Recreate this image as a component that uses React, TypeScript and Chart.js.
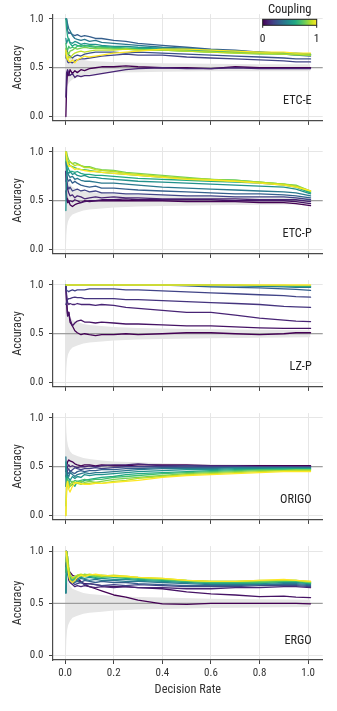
import React, { useEffect, useRef } from 'react';
import { Chart, registerables } from 'chart.js';

Chart.register(...registerables);

const FONT = '"Liberation Sans Narrow", "Roboto Condensed", "DejaVu Sans Condensed", sans-serif';

// Shared decision-rate grid for all curves
const X = [0.003, 0.006, 0.01, 0.015, 0.02, 0.03, 0.04, 0.05, 0.065, 0.08, 0.1, 0.125, 0.15, 0.2, 0.25, 0.3, 0.4, 0.5, 0.6, 0.7, 0.8, 0.9, 0.95, 1.01];
const X_TICKS = [0, 0.2, 0.4, 0.6, 0.8, 1.0];
const Y_TICKS = [0, 0.5, 1.0];
const BAND_X = [0.003, 0.005, 0.008, 0.012, 0.02, 0.03, 0.05, 0.075, 0.1, 0.15, 0.2, 0.3, 0.4, 0.6, 0.8, 1.01];

// ETC-E
const ETCE_COUPLING = [0, 0.1, 0.2, 0.25, 0.3, 0.4, 0.5, 0.6, 0.7, 0.8, 0.9, 1.0];
const ETCE_LINES = [
  [0.00, 0.30, 0.47, 0.42, 0.48, 0.44, 0.47, 0.45, 0.48, 0.47, 0.49, 0.50, 0.51, 0.51, 0.52, 0.51, 0.50, 0.50, 0.49, 0.51, 0.50, 0.50, 0.50, 0.50],
  [0.20, 0.45, 0.48, 0.44, 0.42, 0.44, 0.40, 0.42, 0.41, 0.42, 0.42, 0.43, 0.44, 0.46, 0.48, 0.49, 0.50, 0.49, 0.49, 0.50, 0.49, 0.49, 0.49, 0.49],
  [0.60, 0.62, 0.56, 0.55, 0.56, 0.55, 0.57, 0.58, 0.59, 0.59, 0.60, 0.61, 0.62, 0.63, 0.64, 0.63, 0.63, 0.61, 0.60, 0.59, 0.58, 0.57, 0.56, 0.56],
  [0.62, 0.70, 0.66, 0.63, 0.62, 0.60, 0.62, 0.63, 0.62, 0.64, 0.65, 0.66, 0.66, 0.66, 0.65, 0.66, 0.65, 0.64, 0.63, 0.62, 0.61, 0.60, 0.59, 0.59],
  [1.00, 1.00, 0.88, 0.85, 0.86, 0.84, 0.83, 0.84, 0.82, 0.83, 0.82, 0.80, 0.80, 0.78, 0.77, 0.75, 0.73, 0.71, 0.69, 0.68, 0.66, 0.64, 0.63, 0.62],
  [1.00, 1.00, 0.95, 0.90, 0.88, 0.83, 0.80, 0.79, 0.78, 0.79, 0.77, 0.78, 0.76, 0.75, 0.74, 0.73, 0.71, 0.70, 0.68, 0.67, 0.66, 0.65, 0.64, 0.64],
  [0.80, 0.75, 0.78, 0.80, 0.76, 0.75, 0.77, 0.76, 0.74, 0.75, 0.74, 0.74, 0.73, 0.72, 0.72, 0.71, 0.70, 0.69, 0.68, 0.67, 0.66, 0.65, 0.65, 0.64],
  [1.00, 0.90, 0.82, 0.78, 0.75, 0.72, 0.74, 0.73, 0.72, 0.73, 0.72, 0.71, 0.72, 0.71, 0.70, 0.70, 0.69, 0.68, 0.67, 0.66, 0.65, 0.65, 0.64, 0.64],
  [0.75, 0.70, 0.68, 0.72, 0.70, 0.71, 0.70, 0.72, 0.73, 0.72, 0.73, 0.72, 0.71, 0.70, 0.70, 0.69, 0.68, 0.67, 0.66, 0.66, 0.65, 0.64, 0.64, 0.63],
  [0.70, 0.62, 0.66, 0.64, 0.67, 0.68, 0.70, 0.69, 0.70, 0.71, 0.70, 0.70, 0.70, 0.69, 0.69, 0.68, 0.68, 0.67, 0.66, 0.65, 0.64, 0.64, 0.63, 0.63],
  [0.65, 0.60, 0.58, 0.62, 0.60, 0.63, 0.65, 0.66, 0.67, 0.66, 0.67, 0.68, 0.68, 0.68, 0.69, 0.68, 0.68, 0.67, 0.66, 0.65, 0.65, 0.64, 0.64, 0.63],
  [0.68, 0.62, 0.60, 0.57, 0.56, 0.58, 0.55, 0.58, 0.60, 0.62, 0.61, 0.62, 0.63, 0.65, 0.66, 0.67, 0.69, 0.69, 0.68, 0.67, 0.66, 0.66, 0.65, 0.65],
];
const ETCE_BAND_LO = [0.20, 0.25, 0.30, 0.33, 0.36, 0.38, 0.40, 0.42, 0.43, 0.44, 0.45, 0.455, 0.46, 0.465, 0.465, 0.465];
const ETCE_BAND_HI = [0.62, 0.62, 0.61, 0.61, 0.60, 0.60, 0.59, 0.58, 0.57, 0.565, 0.56, 0.55, 0.545, 0.54, 0.535, 0.535];

// ETC-P
const ETCP_COUPLING = [0, 0.05, 0.1, 0.2, 0.3, 0.4, 0.5, 0.6, 0.7, 0.8, 0.9, 1.0];
const ETCP_LINES = [
  [0.80, 0.55, 0.48, 0.50, 0.46, 0.44, 0.46, 0.47, 0.48, 0.50, 0.49, 0.50, 0.50, 0.50, 0.50, 0.50, 0.50, 0.49, 0.49, 0.49, 0.48, 0.48, 0.47, 0.45],
  [0.60, 0.50, 0.52, 0.48, 0.50, 0.49, 0.51, 0.50, 0.48, 0.49, 0.50, 0.50, 0.51, 0.51, 0.52, 0.51, 0.51, 0.51, 0.51, 0.50, 0.50, 0.50, 0.49, 0.47],
  [0.80, 0.70, 0.62, 0.58, 0.55, 0.56, 0.53, 0.55, 0.54, 0.52, 0.53, 0.54, 0.53, 0.54, 0.53, 0.53, 0.52, 0.52, 0.52, 0.52, 0.51, 0.51, 0.51, 0.49],
  [0.70, 0.72, 0.65, 0.62, 0.64, 0.60, 0.61, 0.62, 0.60, 0.61, 0.59, 0.60, 0.58, 0.58, 0.57, 0.57, 0.56, 0.55, 0.55, 0.54, 0.54, 0.54, 0.53, 0.51],
  [0.90, 0.80, 0.72, 0.70, 0.72, 0.68, 0.70, 0.68, 0.66, 0.65, 0.64, 0.65, 0.63, 0.63, 0.62, 0.61, 0.60, 0.59, 0.58, 0.57, 0.57, 0.56, 0.55, 0.53],
  [1.00, 0.85, 0.78, 0.76, 0.74, 0.75, 0.72, 0.73, 0.71, 0.70, 0.70, 0.69, 0.68, 0.68, 0.67, 0.66, 0.64, 0.63, 0.62, 0.61, 0.60, 0.59, 0.58, 0.55],
  [0.40, 0.85, 0.80, 0.78, 0.80, 0.77, 0.78, 0.76, 0.75, 0.76, 0.74, 0.74, 0.73, 0.72, 0.71, 0.70, 0.69, 0.68, 0.67, 0.66, 0.65, 0.64, 0.62, 0.57],
  [1.00, 0.90, 0.85, 0.82, 0.80, 0.80, 0.79, 0.80, 0.78, 0.77, 0.77, 0.76, 0.76, 0.75, 0.74, 0.73, 0.72, 0.71, 0.70, 0.69, 0.68, 0.66, 0.64, 0.58],
  [0.90, 0.95, 0.92, 0.88, 0.86, 0.85, 0.84, 0.83, 0.82, 0.82, 0.81, 0.80, 0.79, 0.78, 0.77, 0.76, 0.74, 0.73, 0.72, 0.71, 0.69, 0.67, 0.65, 0.59],
  [1.00, 1.00, 0.95, 0.92, 0.90, 0.88, 0.89, 0.88, 0.86, 0.85, 0.85, 0.83, 0.82, 0.81, 0.79, 0.78, 0.76, 0.74, 0.72, 0.71, 0.69, 0.67, 0.66, 0.60],
  [1.00, 0.92, 0.90, 0.88, 0.90, 0.88, 0.86, 0.87, 0.86, 0.84, 0.84, 0.82, 0.81, 0.80, 0.78, 0.77, 0.75, 0.73, 0.72, 0.70, 0.69, 0.67, 0.65, 0.60],
  [1.00, 0.95, 0.88, 0.85, 0.86, 0.84, 0.82, 0.83, 0.82, 0.81, 0.80, 0.80, 0.79, 0.78, 0.77, 0.76, 0.74, 0.72, 0.71, 0.70, 0.68, 0.66, 0.64, 0.60],
];
const ETCP_BAND_LO = [0.00, 0.15, 0.24, 0.29, 0.33, 0.36, 0.38, 0.40, 0.41, 0.42, 0.43, 0.44, 0.445, 0.455, 0.46, 0.465];
const ETCP_BAND_HI = [1.00, 0.85, 0.76, 0.71, 0.67, 0.64, 0.62, 0.60, 0.59, 0.58, 0.57, 0.56, 0.555, 0.545, 0.54, 0.535];

// LZ-P
const LZP_COUPLING = [0, 0.05, 0.1, 0.15, 0.2, 0.3, 0.4, 0.5, 0.7, 1.0];
const LZP_LINES = [
  [1.00, 0.85, 0.70, 0.72, 0.62, 0.58, 0.53, 0.51, 0.49, 0.50, 0.49, 0.48, 0.49, 0.49, 0.50, 0.49, 0.50, 0.51, 0.51, 0.50, 0.49, 0.50, 0.51, 0.51],
  [1.00, 0.80, 0.68, 0.72, 0.65, 0.58, 0.61, 0.63, 0.64, 0.62, 0.62, 0.61, 0.62, 0.61, 0.60, 0.60, 0.59, 0.58, 0.58, 0.57, 0.56, 0.555, 0.555, 0.555],
  [1.00, 0.90, 0.82, 0.80, 0.81, 0.80, 0.80, 0.81, 0.80, 0.80, 0.80, 0.79, 0.80, 0.79, 0.77, 0.76, 0.74, 0.72, 0.72, 0.69, 0.66, 0.64, 0.63, 0.625],
  [0.80, 0.82, 0.85, 0.86, 0.86, 0.87, 0.875, 0.87, 0.87, 0.86, 0.86, 0.86, 0.86, 0.86, 0.85, 0.85, 0.84, 0.83, 0.82, 0.81, 0.80, 0.78, 0.775, 0.77],
  [1.00, 0.94, 0.94, 0.93, 0.94, 0.95, 0.94, 0.95, 0.95, 0.95, 0.96, 0.96, 0.96, 0.96, 0.95, 0.95, 0.94, 0.93, 0.92, 0.91, 0.90, 0.89, 0.88, 0.875],
  [1.00, 1.00, 1.00, 1.00, 1.00, 1.00, 1.00, 1.00, 1.00, 1.00, 1.00, 1.00, 1.00, 1.00, 1.00, 1.00, 1.00, 0.99, 0.98, 0.975, 0.97, 0.96, 0.955, 0.945],
  [1.00, 1.00, 1.00, 1.00, 1.00, 1.00, 1.00, 1.00, 1.00, 1.00, 1.00, 1.00, 1.00, 1.00, 1.00, 1.00, 1.00, 1.00, 0.99, 0.99, 0.985, 0.98, 0.975, 0.975],
  [1.00, 1.00, 1.00, 1.00, 1.00, 1.00, 1.00, 1.00, 1.00, 1.00, 1.00, 1.00, 1.00, 1.00, 1.00, 1.00, 1.00, 1.00, 1.00, 0.995, 0.99, 0.99, 0.985, 0.985],
  [1.00, 1.00, 1.00, 1.00, 1.00, 1.00, 1.00, 1.00, 1.00, 1.00, 1.00, 1.00, 1.00, 1.00, 1.00, 1.00, 1.00, 1.00, 1.00, 1.00, 0.995, 0.995, 0.99, 0.99],
  [1.00, 1.00, 1.00, 1.00, 1.00, 1.00, 1.00, 1.00, 1.00, 1.00, 1.00, 1.00, 1.00, 1.00, 1.00, 1.00, 1.00, 1.00, 1.00, 1.00, 1.00, 1.00, 1.00, 1.00],
];
const LZP_BAND_LO = [0.00, 0.15, 0.24, 0.29, 0.33, 0.36, 0.38, 0.40, 0.41, 0.42, 0.43, 0.44, 0.445, 0.455, 0.46, 0.465];
const LZP_BAND_HI = [1.00, 0.85, 0.76, 0.71, 0.67, 0.64, 0.62, 0.60, 0.59, 0.58, 0.57, 0.56, 0.555, 0.545, 0.54, 0.535];

// ORIGO
const ORIGO_COUPLING = [0, 0.1, 0.2, 0.3, 0.4, 0.5, 0.6, 0.7, 0.8, 0.9, 1.0];
const ORIGO_LINES = [
  [0.45, 0.50, 0.55, 0.57, 0.56, 0.55, 0.53, 0.52, 0.51, 0.52, 0.52, 0.51, 0.52, 0.51, 0.51, 0.52, 0.52, 0.52, 0.51, 0.51, 0.51, 0.51, 0.51, 0.51],
  [0.40, 0.45, 0.50, 0.52, 0.50, 0.51, 0.50, 0.49, 0.50, 0.50, 0.51, 0.50, 0.51, 0.52, 0.52, 0.53, 0.51, 0.51, 0.51, 0.51, 0.50, 0.50, 0.50, 0.50],
  [0.30, 0.42, 0.46, 0.48, 0.45, 0.47, 0.49, 0.48, 0.47, 0.48, 0.48, 0.49, 0.48, 0.49, 0.50, 0.50, 0.50, 0.51, 0.50, 0.50, 0.50, 0.50, 0.50, 0.50],
  [0.50, 0.40, 0.44, 0.43, 0.46, 0.44, 0.43, 0.45, 0.46, 0.45, 0.46, 0.46, 0.47, 0.47, 0.48, 0.48, 0.49, 0.49, 0.49, 0.49, 0.49, 0.49, 0.49, 0.49],
  [0.60, 0.38, 0.42, 0.40, 0.44, 0.42, 0.40, 0.42, 0.43, 0.44, 0.43, 0.44, 0.44, 0.45, 0.46, 0.47, 0.48, 0.48, 0.48, 0.49, 0.49, 0.49, 0.49, 0.49],
  [0.55, 0.35, 0.40, 0.38, 0.36, 0.40, 0.38, 0.40, 0.39, 0.42, 0.41, 0.42, 0.42, 0.43, 0.44, 0.45, 0.46, 0.47, 0.47, 0.48, 0.48, 0.48, 0.48, 0.48],
  [0.40, 0.32, 0.36, 0.34, 0.30, 0.32, 0.30, 0.35, 0.34, 0.36, 0.37, 0.38, 0.39, 0.40, 0.42, 0.43, 0.44, 0.45, 0.46, 0.47, 0.47, 0.48, 0.48, 0.48],
  [0.30, 0.35, 0.38, 0.33, 0.36, 0.34, 0.36, 0.35, 0.36, 0.37, 0.36, 0.37, 0.37, 0.39, 0.40, 0.41, 0.43, 0.44, 0.45, 0.46, 0.47, 0.47, 0.47, 0.47],
  [0.10, 0.30, 0.34, 0.30, 0.32, 0.35, 0.34, 0.33, 0.35, 0.34, 0.35, 0.34, 0.35, 0.37, 0.38, 0.39, 0.41, 0.43, 0.44, 0.45, 0.46, 0.46, 0.47, 0.47],
  [0.00, 0.25, 0.35, 0.28, 0.30, 0.33, 0.34, 0.33, 0.32, 0.33, 0.33, 0.34, 0.33, 0.35, 0.36, 0.38, 0.40, 0.42, 0.43, 0.44, 0.45, 0.46, 0.46, 0.46],
  [0.00, 0.30, 0.35, 0.27, 0.24, 0.30, 0.33, 0.34, 0.33, 0.32, 0.32, 0.33, 0.33, 0.34, 0.35, 0.36, 0.39, 0.41, 0.42, 0.43, 0.44, 0.45, 0.45, 0.45],
];
const ORIGO_BAND_LO = [0.46, 0.47, 0.47, 0.48, 0.48, 0.48, 0.48, 0.485, 0.485, 0.49, 0.49, 0.49, 0.49, 0.49, 0.49, 0.49];
const ORIGO_BAND_HI = [1.00, 0.86, 0.77, 0.71, 0.66, 0.63, 0.61, 0.59, 0.58, 0.565, 0.555, 0.545, 0.535, 0.525, 0.52, 0.515];

// ERGO
const ERGO_COUPLING = [0, 0.05, 0.1, 0.2, 0.3, 0.4, 0.5, 0.6, 0.7, 0.8, 0.9, 1.0];
const ERGO_LINES = [
  [0.85, 0.95, 0.82, 0.78, 0.80, 0.77, 0.76, 0.74, 0.71, 0.68, 0.66, 0.64, 0.62, 0.58, 0.56, 0.53, 0.495, 0.49, 0.50, 0.50, 0.50, 0.50, 0.50, 0.495],
  [0.80, 0.90, 0.80, 0.78, 0.76, 0.75, 0.74, 0.72, 0.70, 0.69, 0.69, 0.68, 0.67, 0.66, 0.66, 0.65, 0.64, 0.61, 0.59, 0.58, 0.565, 0.57, 0.56, 0.555],
  [1.00, 1.00, 0.85, 0.72, 0.70, 0.68, 0.66, 0.67, 0.66, 0.67, 0.66, 0.65, 0.66, 0.65, 0.66, 0.65, 0.65, 0.64, 0.64, 0.65, 0.65, 0.66, 0.66, 0.65],
  [1.00, 1.00, 0.90, 0.75, 0.72, 0.70, 0.68, 0.69, 0.70, 0.68, 0.69, 0.68, 0.67, 0.68, 0.67, 0.68, 0.67, 0.66, 0.66, 0.66, 0.67, 0.67, 0.67, 0.66],
  [0.60, 1.00, 0.95, 0.78, 0.74, 0.72, 0.70, 0.71, 0.70, 0.72, 0.71, 0.70, 0.71, 0.70, 0.70, 0.69, 0.68, 0.67, 0.67, 0.67, 0.68, 0.68, 0.68, 0.67],
  [0.60, 0.75, 0.80, 0.76, 0.72, 0.70, 0.71, 0.72, 0.74, 0.73, 0.72, 0.73, 0.72, 0.72, 0.71, 0.71, 0.70, 0.69, 0.68, 0.68, 0.68, 0.69, 0.69, 0.68],
  [0.60, 0.80, 0.85, 0.80, 0.74, 0.72, 0.73, 0.74, 0.75, 0.74, 0.75, 0.74, 0.74, 0.73, 0.73, 0.72, 0.71, 0.70, 0.69, 0.69, 0.69, 0.70, 0.70, 0.69],
  [0.70, 0.85, 0.90, 0.82, 0.76, 0.74, 0.75, 0.76, 0.76, 0.77, 0.76, 0.75, 0.76, 0.75, 0.74, 0.73, 0.72, 0.71, 0.70, 0.70, 0.70, 0.71, 0.71, 0.69],
  [0.80, 1.00, 0.92, 0.80, 0.75, 0.72, 0.74, 0.76, 0.77, 0.76, 0.77, 0.76, 0.75, 0.76, 0.75, 0.74, 0.73, 0.71, 0.70, 0.70, 0.70, 0.71, 0.71, 0.70],
  [0.90, 1.00, 0.95, 0.85, 0.78, 0.74, 0.75, 0.77, 0.76, 0.78, 0.77, 0.76, 0.77, 0.76, 0.75, 0.75, 0.73, 0.72, 0.71, 0.71, 0.71, 0.72, 0.72, 0.70],
  [1.00, 1.00, 0.92, 0.82, 0.77, 0.74, 0.76, 0.77, 0.78, 0.77, 0.78, 0.77, 0.76, 0.77, 0.76, 0.75, 0.74, 0.72, 0.71, 0.71, 0.72, 0.72, 0.72, 0.71],
  [1.00, 0.95, 0.85, 0.76, 0.72, 0.70, 0.72, 0.75, 0.77, 0.76, 0.77, 0.78, 0.77, 0.76, 0.76, 0.75, 0.74, 0.72, 0.71, 0.71, 0.72, 0.73, 0.72, 0.71],
];
const ERGO_BAND_LO = [0.00, 0.15, 0.24, 0.29, 0.33, 0.36, 0.38, 0.40, 0.41, 0.42, 0.43, 0.44, 0.445, 0.455, 0.46, 0.465];
const ERGO_BAND_HI = [1.00, 0.85, 0.76, 0.71, 0.67, 0.64, 0.62, 0.60, 0.59, 0.58, 0.57, 0.56, 0.555, 0.545, 0.54, 0.535];

const VIRIDIS = ['#440154', '#482475', '#414487', '#355f8d', '#2a788e', '#21918c', '#22a884', '#44bf70', '#7ad151', '#bddf26', '#fde725'];

function hexToRgb(h: string) {
  return [parseInt(h.slice(1, 3), 16), parseInt(h.slice(3, 5), 16), parseInt(h.slice(5, 7), 16)];
}
function viridis(t: number) {
  const p = Math.max(0, Math.min(1, t)) * (VIRIDIS.length - 1);
  const i = Math.min(Math.floor(p), VIRIDIS.length - 2);
  const f = p - i;
  const a = hexToRgb(VIRIDIS[i]);
  const b = hexToRgb(VIRIDIS[i + 1]);
  const c = a.map((v, k) => Math.round(v + (b[k] - v) * f));
  return `rgb(${c[0]},${c[1]},${c[2]})`;
}

type PanelProps = {
  name: string;
  coupling: number[];
  lines: number[][];
  bandLo: number[];
  bandHi: number[];
  top: number;
  height: number;
  showX: boolean;
  colorbar: boolean;
};

function Panel(props: PanelProps) {
  const ref = useRef<HTMLCanvasElement>(null);
  useEffect(() => {
    const { name, coupling, lines, bandLo, bandHi, height, showX, colorbar } = props;
    const datasets: any[] = [];
    datasets.push({
      data: BAND_X.map((x, i) => ({ x, y: bandLo[i] })),
      borderColor: 'transparent', borderWidth: 0, pointRadius: 0, fill: false, order: 1000,
    });
    datasets.push({
      data: BAND_X.map((x, i) => ({ x, y: bandHi[i] })),
      borderColor: 'transparent', borderWidth: 0, pointRadius: 0, fill: '-1',
      backgroundColor: '#e6e6e6', order: 1000,
    });
    datasets.push({
      data: [{ x: -0.05, y: 0.5 }, { x: 1.06, y: 0.5 }],
      borderColor: '#8a8a8a', borderWidth: 1, pointRadius: 0, fill: false, order: 900,
    });
    lines.forEach((ys, k) => {
      datasets.push({
        data: X.map((x, i) => ({ x, y: ys[i] })),
        borderColor: viridis(coupling[k]), borderWidth: 1.3, pointRadius: 0,
        fill: false, tension: 0, order: -k,
      });
    });

    const labelPlugin = {
      id: 'panelLabel',
      afterDraw(chart: any) {
        const ctx = chart.ctx;
        const area = chart.chartArea;
        ctx.save();
        ctx.fillStyle = '#222';
        ctx.font = `12.3px ${FONT}`;
        ctx.textAlign = 'right';
        ctx.textBaseline = 'alphabetic';
        ctx.fillText(name, area.right - 11, area.bottom - 16.5);
        if (colorbar) {
          const x0 = area.right - 60;
          const x1 = area.right - 6;
          const y0 = area.top + 5.2;
          const y1 = area.top + 11.2;
          const g = ctx.createLinearGradient(x0, 0, x1, 0);
          VIRIDIS.forEach((c, i) => g.addColorStop(i / (VIRIDIS.length - 1), c));
          ctx.fillStyle = g;
          ctx.fillRect(x0, y0, x1 - x0, y1 - y0);
          ctx.strokeStyle = '#222';
          ctx.lineWidth = 1;
          ctx.strokeRect(x0, y0, x1 - x0, y1 - y0);
          ctx.beginPath();
          ctx.moveTo(x0, y1); ctx.lineTo(x0, y1 + 2.5);
          ctx.moveTo(x1, y1); ctx.lineTo(x1, y1 + 2.5);
          ctx.stroke();
          ctx.fillStyle = '#222';
          ctx.textAlign = 'center';
          ctx.font = `12.5px ${FONT}`;
          ctx.fillText('Coupling', (x0 + x1) / 2, area.top - 1.6);
          ctx.font = `11.5px ${FONT}`;
          ctx.textBaseline = 'middle';
          ctx.fillText('0', x0, area.top + 25);
          ctx.fillText('1', x1, area.top + 25);
        }
        ctx.restore();
      },
    };

    const chart = new Chart(ref.current as HTMLCanvasElement, {
      type: 'line',
      data: { datasets },
      options: {
        animation: false,
        responsive: false,
        devicePixelRatio: 1,
        layout: { padding: { top: 14.1, right: 14.3, left: 0, bottom: 0 } },
        plugins: { legend: { display: false }, tooltip: { enabled: false } },
        elements: { line: { borderJoinStyle: 'round', borderCapStyle: 'round' } },
        scales: {
          x: {
            type: 'linear',
            min: -0.05,
            max: 1.06,
            afterBuildTicks: (s: any) => { s.ticks = X_TICKS.map((v) => ({ value: v })); },
            afterFit: (s: any) => { s.height = height - 128; },
            grid: { color: '#e6e6e6', lineWidth: 1, tickColor: '#444', tickLength: 4, drawTicks: true },
            border: { color: '#4a4a4a', width: 1.2 },
            ticks: {
              display: showX, padding: 2.5, color: '#333',
              font: { family: FONT, size: 11 },
              maxRotation: 0,
              callback: (v: any) => Number(v).toFixed(1),
            },
            title: {
              display: showX, text: 'Decision Rate', color: '#333',
              font: { family: FONT, size: 12.3 }, padding: { top: 0, bottom: 13.6 },
            },
          },
          y: {
            type: 'linear',
            min: -0.045,
            max: 1.05,
            afterBuildTicks: (s: any) => { s.ticks = Y_TICKS.map((v) => ({ value: v })); },
            afterFit: (s: any) => { s.width = 53; },
            grid: { color: '#e6e6e6', lineWidth: 1, tickColor: '#444', tickLength: 4, drawTicks: true },
            border: { color: '#4a4a4a', width: 1.2 },
            ticks: {
              padding: 5.5, color: '#333',
              font: { family: FONT, size: 11 },
              callback: (v: any) => Number(v).toFixed(1),
            },
            title: {
              display: true, text: 'Accuracy', color: '#333',
              font: { family: FONT, size: 12.3 }, padding: { top: 10.6, bottom: 0 },
            },
          },
        },
      },
      plugins: [labelPlugin],
    } as any);
    return () => chart.destroy();
  }, []);
  return (
    <canvas
      ref={ref}
      width={337}
      height={props.height}
      style={{ position: 'absolute', left: 0, top: props.top, width: 337, height: props.height, display: 'block' }}
    />
  );
}

export default function App() {
  return (
    <div style={{ position: 'absolute', left: 0, top: 0, width: 337, height: 711, background: '#fff' }}>
      <Panel name="ETC-E" coupling={ETCE_COUPLING} lines={ETCE_LINES} bandLo={ETCE_BAND_LO} bandHi={ETCE_BAND_HI} top={0} height={133} showX={false} colorbar={true} />
      <Panel name="ETC-P" coupling={ETCP_COUPLING} lines={ETCP_LINES} bandLo={ETCP_BAND_LO} bandHi={ETCP_BAND_HI} top={133} height={133} showX={false} colorbar={false} />
      <Panel name="LZ-P" coupling={LZP_COUPLING} lines={LZP_LINES} bandLo={LZP_BAND_LO} bandHi={LZP_BAND_HI} top={266} height={133} showX={false} colorbar={false} />
      <Panel name="ORIGO" coupling={ORIGO_COUPLING} lines={ORIGO_LINES} bandLo={ORIGO_BAND_LO} bandHi={ORIGO_BAND_HI} top={399} height={133} showX={false} colorbar={false} />
      <Panel name="ERGO" coupling={ERGO_COUPLING} lines={ERGO_LINES} bandLo={ERGO_BAND_LO} bandHi={ERGO_BAND_HI} top={532} height={179} showX={true} colorbar={false} />
    </div>
  );
}
